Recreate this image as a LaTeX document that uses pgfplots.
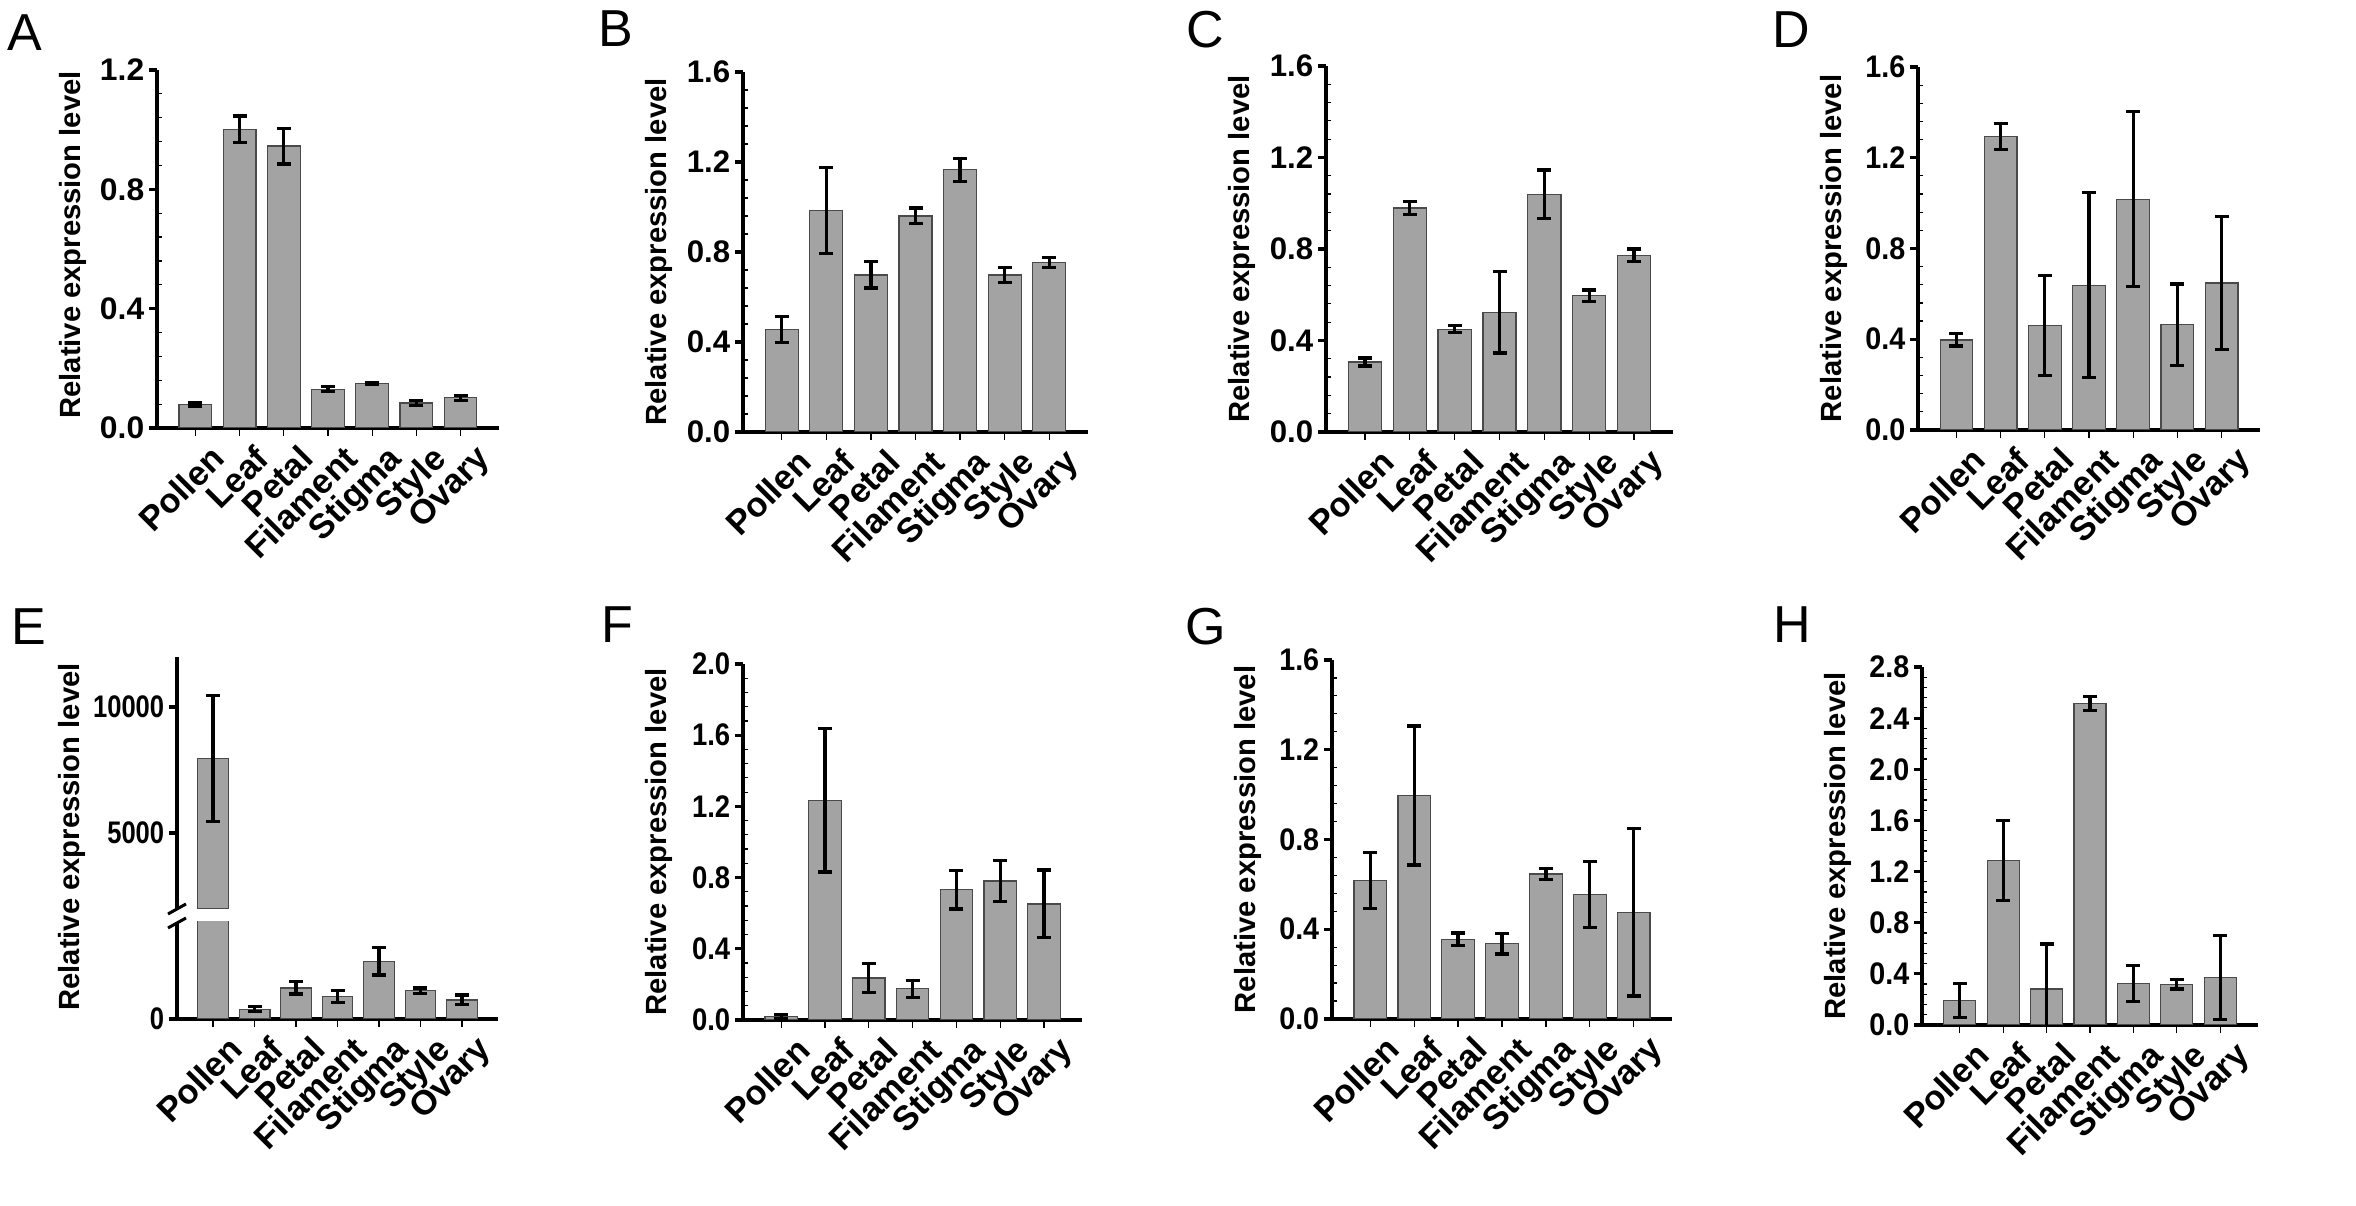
\documentclass[border=0pt]{standalone}
\usepackage{fontspec}
\setmainfont{Liberation Sans}
\newfontfamily\tickA{Liberation Sans}[FakeStretch=1.02]
\newfontfamily\tickB{Liberation Sans}[FakeStretch=1.0]
\newfontfamily\tickD{Liberation Sans}[FakeStretch=0.92]
\newfontfamily\tickF{Liberation Sans}[FakeStretch=0.88]
\newfontfamily\tickE{Liberation Sans}[FakeStretch=0.82]
\usepackage{pgfplots}
\pgfplotsset{compat=1.18}
\definecolor{barfill}{HTML}{A3A3A3}
\definecolor{baredge}{HTML}{4A4A4A}
\pgfplotsset{
 panel/.style={
   scale only axis,
   anchor=south west,
   axis x line*=bottom, axis y line*=left,
   axis line style={-, line width=0.8pt, black},
   xmin=-0.87, xmax=6.87, ymin=0,
   xtick={0,...,6},
   xticklabels={Pollen,Leaf,Petal,Filament,Stigma,Style,Ovary},
   xticklabel style={rotate=45, anchor=north east, inner sep=0.5pt, xshift=1.8pt, yshift=-3pt, font=\bfseries\fontsize{8.6}{9}\selectfont},
   yticklabel style={font=\bfseries\fontsize{7.8}{8}\selectfont, inner sep=1pt},
   scaled y ticks=false,
   tick align=outside,
   major tick length=2pt,
   minor tick length=-1.3pt,
   every major y tick/.style={line width=0.8pt, black},
   every minor y tick/.style={line width=0.3pt, black},
   every major x tick/.style={line width=0.3pt, black},
   minor y tick num=4,
   /pgf/number format/assume math mode=true,
   /pgf/number format/fixed, /pgf/number format/fixed zerofill, /pgf/number format/precision=1,
   ylabel={Relative expression level},
   every axis y label/.style={at={(rel axis cs:0,0.5)}, xshift=-21pt, rotate=90, anchor=center, font=\bfseries\fontsize{7.3}{8}\selectfont},
   ybar, bar width=0.74,
 },
 barplot/.style={fill=barfill, draw=baredge, line width=0.3pt,
   error bars/.cd, y dir=both, y explicit,
   error bar style={line width=0.8pt, black},
   error mark options={rotate=90, mark size=1.75pt, line width=0.8pt, black}},
}
\begin{document}
\begin{tikzpicture}
\useasboundingbox (0,0) rectangle (589pt,301.5pt);
% A
\begin{axis}[panel, at={(39.25pt,194.5pt)}, width=85.5pt, height=89.5pt, ymax=1.2, ytick={0,0.4,0.8,1.2},
  yticklabel style={font=\tickA\bfseries\fontsize{7.8}{8}\selectfont},
  every axis y label/.append style={xshift=1pt}]
\addplot[barplot] coordinates {(0,0.078) +- (0,0.006) (1,1.001) +- (0,0.045) (2,0.945) +- (0,0.06) (3,0.130) +- (0,0.009) (4,0.149) +- (0,0.003) (5,0.084) +- (0,0.009) (6,0.101) +- (0,0.008)};
\end{axis}
% B
\begin{axis}[panel, at={(185.75pt,193.5pt)}, width=86.25pt, height=90pt, ymax=1.6, ytick={0,0.4,0.8,1.2,1.6},
  yticklabel style={font=\tickB\bfseries\fontsize{7.8}{8}\selectfont}]
\addplot[barplot] coordinates {(0,0.454) +- (0,0.058) (1,0.985) +- (0,0.19) (2,0.698) +- (0,0.058) (3,0.960) +- (0,0.035) (4,1.165) +- (0,0.05) (5,0.698) +- (0,0.034) (6,0.754) +- (0,0.023)};
\end{axis}
% C
\begin{axis}[panel, at={(331.5pt,193.5pt)}, width=86.75pt, height=91.5pt, ymax=1.6, ytick={0,0.4,0.8,1.2,1.6},
  yticklabel style={font=\tickB\bfseries\fontsize{7.8}{8}\selectfont}]
\addplot[barplot] coordinates {(0,0.306) +- (0,0.0175) (1,0.979) +- (0,0.027) (2,0.449) +- (0,0.015) (3,0.523) +- (0,0.178) (4,1.039) +- (0,0.106) (5,0.596) +- (0,0.025) (6,0.772) +- (0,0.028)};
\end{axis}
% D
\begin{axis}[panel, at={(479.5pt,194pt)}, width=85.5pt, height=90.75pt, ymax=1.6, ytick={0,0.4,0.8,1.2,1.6},
  yticklabel style={font=\tickD\bfseries\fontsize{7.8}{8}\selectfont}]
\addplot[barplot] coordinates {(0,0.397) +- (0,0.027) (1,1.293) +- (0,0.058) (2,0.461) +- (0,0.221) (3,0.638) +- (0,0.408) (4,1.017) +- (0,0.386) (5,0.464) +- (0,0.179) (6,0.648) +- (0,0.293)};
\end{axis}
% E lower
\begin{axis}[panel, at={(44.25pt,46.75pt)}, width=80.25pt, height=24.25pt, ymax=300, ytick={0}, minor y tick num=0, ylabel={},
  yticklabel style={font=\tickE\bfseries\fontsize{7.8}{8}\selectfont},
  /pgf/number format/precision=0, /pgf/number format/fixed zerofill=false]
\addplot[barplot] coordinates {(0,7940) +- (0,2500) (1,30) +- (0,8) (2,96) +- (0,19) (3,70) +- (0,19) (4,178) +- (0,42) (5,87) +- (0,9) (6,59) +- (0,15)};
\end{axis}
% E upper
\begin{axis}[panel, at={(44.25pt,74.35pt)}, width=80.25pt, height=63pt, ymin=2000, ymax=12000, ytick={5000,10000}, minor y tick num=0, ylabel={},
  yticklabel style={font=\tickE\bfseries\fontsize{7.8}{8}\selectfont},
  x axis line style={draw=none}, xtick=\empty, xticklabels={},
  /pgf/number format/precision=0, /pgf/number format/fixed zerofill=false, /pgf/number format/1000 sep={}]
\addplot[barplot] coordinates {(0,7940) +- (0,2500)};
\end{axis}
\draw[line width=0.75pt] (42pt,73pt) -- (46.5pt,75.5pt);
\draw[line width=0.75pt] (42pt,69.5pt) -- (46.5pt,72pt);
\node[rotate=90, font=\bfseries\fontsize{7.3}{8}\selectfont] at (18pt,92.25pt) {Relative expression level};
% F
\begin{axis}[panel, at={(185.75pt,46.5pt)}, width=84.75pt, height=89pt, ymax=2.0, ytick={0,0.4,0.8,1.2,1.6,2.0},
  yticklabel style={font=\tickF\bfseries\fontsize{7.8}{8}\selectfont}]
\addplot[barplot] coordinates {(0,0.019) +- (0,0.01) (1,1.234) +- (0,0.403) (2,0.236) +- (0,0.08) (3,0.176) +- (0,0.048) (4,0.732) +- (0,0.109) (5,0.781) +- (0,0.114) (6,0.652) +- (0,0.19)};
\end{axis}
% G
\begin{axis}[panel, at={(333pt,46.75pt)}, width=85pt, height=89.75pt, ymax=1.6, ytick={0,0.4,0.8,1.2,1.6},
  yticklabel style={font=\tickD\bfseries\fontsize{7.8}{8}\selectfont}]
\addplot[barplot] coordinates {(0,0.617) +- (0,0.124) (1,0.996) +- (0,0.31) (2,0.356) +- (0,0.027) (3,0.335) +- (0,0.045) (4,0.646) +- (0,0.025) (5,0.555) +- (0,0.148) (6,0.475) +- (0,0.373)};
\end{axis}
% H
\begin{axis}[panel, at={(480.5pt,45.25pt)}, width=84pt, height=89.5pt, ymax=2.8, ytick={0,0.4,0.8,1.2,1.6,2.0,2.4,2.8},
  yticklabel style={font=\tickD\bfseries\fontsize{7.8}{8}\selectfont}]
\addplot[barplot] coordinates {(0,0.193) +- (0,0.134) (1,1.289) +- (0,0.313) (2,0.282) +- (0,0.352) (3,2.516) +- (0,0.056) (4,0.324) +- (0,0.141) (5,0.318) +- (0,0.037) (6,0.371) +- (0,0.326)};
\end{axis}
% panel letters
\begin{scope}[every node/.style={font=\fontsize{13}{14}\selectfont, inner sep=0pt}]
\node at (6.25pt,293.25pt) {A};
\node at (154pt,294.25pt) {B};
\node at (301.25pt,294pt) {C};
\node at (447.75pt,294pt) {D};
\node at (7.25pt,144.75pt) {E};
\node at (154.25pt,145.25pt) {F};
\node at (301.5pt,144.75pt) {G};
\node at (448pt,145.25pt) {H};
\end{scope}
\end{tikzpicture}
\end{document}
